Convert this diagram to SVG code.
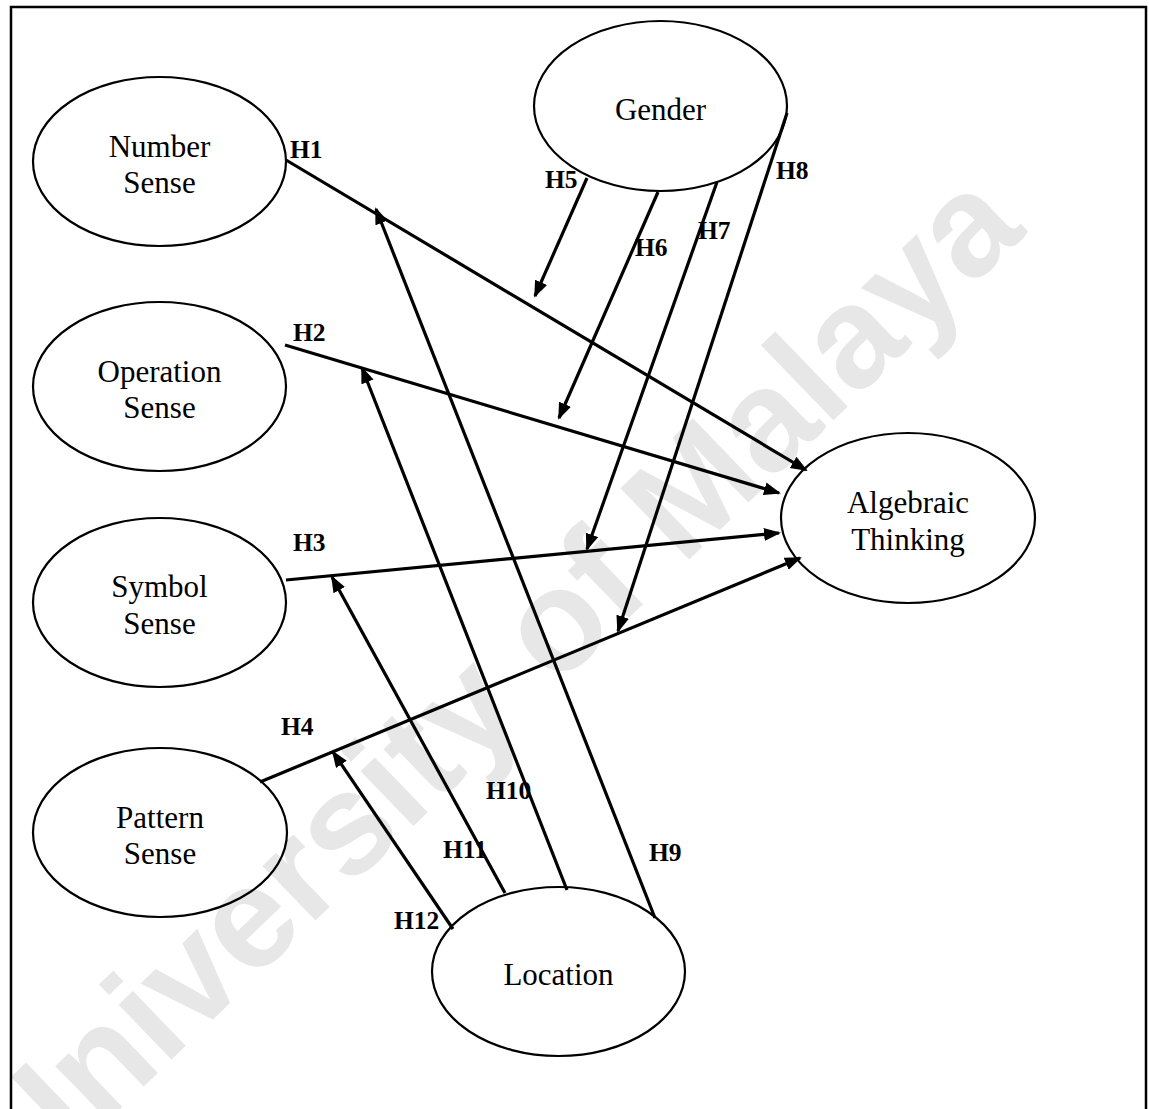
<svg xmlns="http://www.w3.org/2000/svg" width="1149" height="1109" viewBox="0 0 1149 1109">
  <style>
    .node ellipse { fill: none; stroke: #000; stroke-width: 2.2; }
    .node text { font-family: "Liberation Serif", "Times New Roman", serif; font-size: 31px; fill: #000; text-anchor: middle; }
    .edge { stroke: #000; stroke-width: 3.2; fill: none; marker-end: url(#head); }
    .lbl { font-family: "Liberation Serif", "Times New Roman", serif; font-size: 25.5px; font-weight: bold; fill: #000; }
    .mark { font-family: "Liberation Sans", Arial, sans-serif; font-size: 144px; font-weight: bold; fill: #e7e7e7; }
  </style>
  <defs>
    <marker id="head" markerUnits="userSpaceOnUse" markerWidth="19" markerHeight="14" refX="15" refY="6.5" orient="auto">
      <path d="M0,0 L17,6.5 L0,13 z" fill="#000"/>
    </marker>
  </defs>

  <rect x="0" y="0" width="1149" height="1109" fill="#fff"/>

  <!-- background watermark -->
  <text class="mark" text-anchor="middle" dy="0.35em" transform="translate(492,680) rotate(-44)">University of Malaya</text>

  <!-- outer frame -->
  <rect x="11" y="7" width="1135" height="1120" fill="none" stroke="#000" stroke-width="2.5"/>

  <!-- connectors -->
  <g id="connectors">
    <line class="edge" x1="286" y1="160" x2="806" y2="470"/>
    <line class="edge" x1="285" y1="345" x2="779" y2="493"/>
    <line class="edge" x1="286" y1="580" x2="779" y2="533"/>
    <line class="edge" x1="260" y1="782" x2="800" y2="558"/>
    <line class="edge" x1="587" y1="178" x2="535" y2="296"/>
    <line class="edge" x1="658" y1="192" x2="559" y2="418"/>
    <line class="edge" x1="717" y1="182" x2="587" y2="549"/>
    <line class="edge" x1="787" y1="113" x2="618" y2="631"/>
    <line class="edge" x1="655" y1="918" x2="376" y2="209"/>
    <line class="edge" x1="567" y1="890" x2="362" y2="368"/>
    <line class="edge" x1="505" y1="893" x2="332" y2="577"/>
    <line class="edge" x1="453" y1="929" x2="333" y2="752"/>
  </g>

  <!-- hypothesis labels -->
  <g id="labels">
    <text class="lbl" x="290" y="158">H1</text>
    <text class="lbl" x="293" y="341">H2</text>
    <text class="lbl" x="293" y="551">H3</text>
    <text class="lbl" x="281" y="735">H4</text>
    <text class="lbl" x="545" y="188">H5</text>
    <text class="lbl" x="635" y="256">H6</text>
    <text class="lbl" x="698" y="239">H7</text>
    <text class="lbl" x="776" y="179">H8</text>
    <text class="lbl" x="649" y="861">H9</text>
    <text class="lbl" x="486" y="799">H10</text>
    <text class="lbl" x="443" y="858">H11</text>
    <text class="lbl" x="394" y="929">H12</text>
  </g>

  <!-- nodes -->
  <g id="number-sense" class="node">
    <ellipse cx="159.5" cy="161.5" rx="126.5" ry="84.5"/>
    <text x="159.5" y="157">Number</text>
    <text x="159.5" y="193">Sense</text>
  </g>
  <g id="operation-sense" class="node">
    <ellipse cx="159.5" cy="386.5" rx="126.5" ry="84.5"/>
    <text x="159.5" y="382">Operation</text>
    <text x="159.5" y="418">Sense</text>
  </g>
  <g id="symbol-sense" class="node">
    <ellipse cx="159.5" cy="602.5" rx="126.5" ry="84.5"/>
    <text x="159.5" y="597">Symbol</text>
    <text x="159.5" y="634">Sense</text>
  </g>
  <g id="pattern-sense" class="node">
    <ellipse cx="160" cy="832.5" rx="127" ry="84.5"/>
    <text x="160" y="828">Pattern</text>
    <text x="160" y="864">Sense</text>
  </g>
  <g id="gender" class="node">
    <ellipse cx="660.5" cy="106" rx="126.5" ry="85"/>
    <text x="660.5" y="120">Gender</text>
  </g>
  <g id="algebraic-thinking" class="node">
    <ellipse cx="908" cy="518" rx="127" ry="85"/>
    <text x="908" y="513">Algebraic</text>
    <text x="908" y="550">Thinking</text>
  </g>
  <g id="location" class="node">
    <ellipse cx="558.5" cy="971.5" rx="126.5" ry="84.5"/>
    <text x="558.5" y="985">Location</text>
  </g>
</svg>
